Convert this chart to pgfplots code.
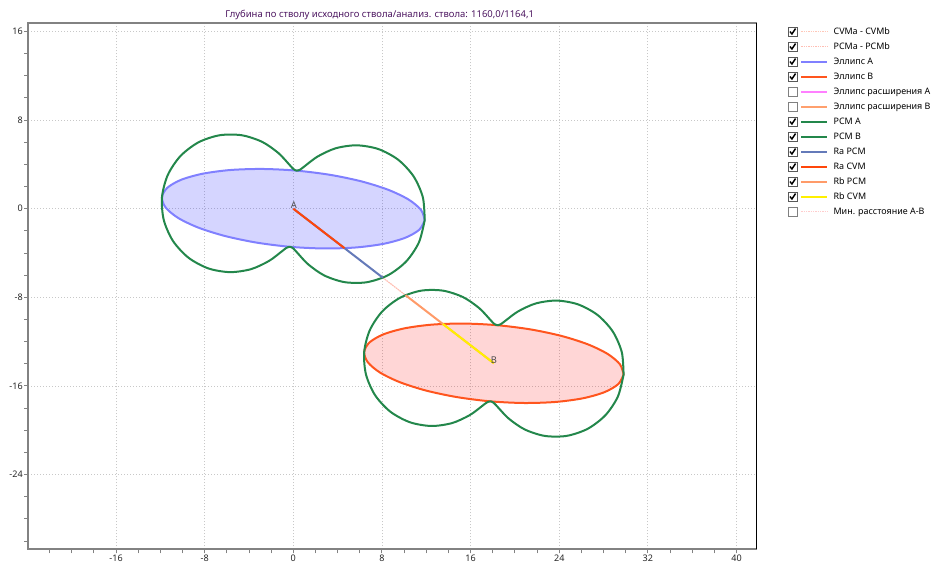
\documentclass[border=0pt]{standalone}
\usepackage{fontspec}
\setmainfont{Noto Sans}
\usepackage{pgfplots}
\pgfplotsset{compat=1.18}
\definecolor{pcmgreen}{RGB}{35,135,75}
\definecolor{ellA}{RGB}{128,128,255}
\definecolor{ellB}{RGB}{255,85,30}
\definecolor{raPCM}{RGB}{100,122,185}
\definecolor{raCVM}{RGB}{255,70,10}
\definecolor{rbPCM}{RGB}{255,155,105}
\definecolor{rbCVM}{RGB}{255,240,0}
\definecolor{cvmline}{RGB}{255,200,185}
\definecolor{pcmline}{RGB}{255,190,180}
\definecolor{minline}{RGB}{255,205,205}
\definecolor{expA}{RGB}{255,128,255}
\definecolor{expB}{RGB}{255,160,110}
\definecolor{titlecol}{RGB}{75,20,95}
\definecolor{gridcol}{RGB}{200,200,200}
\definecolor{spine}{RGB}{130,130,130}
\pgfplotsset{
 chk/.style={legend image code/.code={
   \draw[black!65, line width=0.5pt, solid, fill=white, fill opacity=1] (0pt,-3.2pt) rectangle (6.4pt,3.2pt);
   \draw[black, line width=1.1pt, solid, fill=none] (1.2pt,0.1pt) -- (2.7pt,-1.7pt) -- (5.4pt,2.3pt);
   \draw[fill=none] (9.75pt,0pt) -- (29.25pt,0pt);}},
 unchk/.style={legend image code/.code={
   \draw[black!50, line width=0.5pt, solid, fill=white, fill opacity=1] (0pt,-3.2pt) rectangle (6.4pt,3.2pt);
   \draw[fill=none] (9.75pt,0pt) -- (29.25pt,0pt);}},
}
\begin{document}
\begin{tikzpicture}
\begin{axis}[
 at={(0,0)}, anchor=south west,
 scale only axis, width=546.3pt, height=394.95pt,
 xmin=-23.92, xmax=41.82, ymin=-30.74, ymax=16.79,
 axis line style={draw=none},
 xtick={-16,-8,...,40}, xticklabels={-16,-8,0,8,16,24,32,40},
 ytick={-24,-16,...,16}, yticklabels={-24,-16,-8,0,8,16},
 minor xtick={-22,-20,...,40}, minor ytick={-30,-28,...,16},
 xtick pos=bottom, ytick pos=left, tick align=outside,
 major tick length=3pt, minor tick length=3pt,
 tick style={spine, line width=0.75pt},
 grid=major, major grid style={gridcol, line width=0.6pt, dash pattern=on 0.75pt off 1.5pt},
 tick label style={font=\fontsize{6.8}{8}\selectfont, text=black!85},
 xticklabel style={inner sep=1pt},
 yticklabel style={inner sep=1pt},
 legend style={at={(1.0430,0.9918)}, anchor=north west, draw=none, fill=none,
   inner sep=0pt, outer sep=0pt, row sep=4.25pt, column sep=3.95pt,
   font=\fontsize{6.7}{8}\selectfont,
   nodes={inner xsep=0pt, inner ysep=0pt, text height=5.3pt, text depth=1.7pt}},
 legend cell align=left,
]
\addplot[cvmline, line width=0.75pt, dash pattern=on 1pt off 0.75pt, chk] coordinates {(4.618,-3.559) (13.492,-10.398)};
\addlegendentry{CVMa - CVMb}
\addplot[pcmline, line width=0.75pt, dash pattern=on 1pt off 0.75pt, chk] coordinates {(8.075,-6.224) (10.123,-7.802)};
\addlegendentry{PCMa - PCMb}
\addplot[ellA, line width=1.5pt, smooth, fill=blue, fill opacity=0.165, draw opacity=1, chk] coordinates {
(11.855,-1.037) (11.529,-0.113) (10.417,0.820) (8.596,1.697) (6.188,2.457) (3.358,3.052) (0.301,3.437) (-2.778,3.588) (-5.668,3.495) (-8.170,3.163) (-10.117,2.616) (-11.373,1.891) (-11.855,1.037) (-11.529,0.113) (-10.417,-0.820) (-8.596,-1.697) (-6.188,-2.457) (-3.358,-3.052) (-0.301,-3.437) (2.778,-3.588) (5.668,-3.495) (8.170,-3.163) (10.117,-2.616) (11.373,-1.891) (11.855,-1.037)};
\addlegendentry{Эллипс A}
\addplot[ellB, line width=1.5pt, smooth, fill=red, fill opacity=0.16, draw opacity=1, chk] coordinates {
(29.805,-14.974) (29.484,-14.050) (28.387,-13.119) (26.590,-12.244) (24.213,-11.486) (21.419,-10.895) (18.401,-10.513) (15.361,-10.365) (12.507,-10.462) (10.036,-10.796) (8.113,-11.345) (6.872,-12.072) (6.395,-12.926) (6.716,-13.850) (7.813,-14.781) (9.610,-15.656) (11.987,-16.414) (14.781,-17.005) (17.799,-17.387) (20.839,-17.535) (23.693,-17.438) (26.164,-17.104) (28.087,-16.555) (29.328,-15.828) (29.805,-14.974)};
\addlegendentry{Эллипс B}
\addlegendimage{expA, line width=1.5pt, unchk}
\addlegendentry{Эллипс расширения A}
\addlegendimage{expB, line width=1.5pt, unchk}
\addlegendentry{Эллипс расширения B}
\addplot[pcmgreen, line width=1.5pt, smooth, chk] coordinates {
(11.855,-1.037) (11.691,1.023) (10.861,2.910) (9.470,4.416) (7.686,5.382) (5.722,5.723) (3.819,5.454) (2.199,4.715) (1.029,3.842) (0.624,3.535) (0.301,3.437)
(0.000,3.589) (-0.347,3.962) (-1.347,5.025) (-2.813,6.034) (-4.642,6.629) (-6.634,6.634) (-8.560,5.994) (-10.191,4.752) (-11.335,3.037) (-11.855,1.037)
(-11.691,-1.023) (-10.861,-2.910) (-9.470,-4.416) (-7.686,-5.382) (-5.722,-5.723) (-3.819,-5.454) (-2.199,-4.715) (-1.029,-3.842) (-0.624,-3.535) (-0.301,-3.437)
(0.000,-3.589) (0.347,-3.962) (1.347,-5.025) (2.813,-6.034) (4.642,-6.629) (6.634,-6.634) (8.560,-5.994) (10.191,-4.752) (11.335,-3.037) (11.855,-1.037)};
\addlegendentry{PCM A}
\addplot[pcmgreen, line width=1.5pt, smooth, chk] coordinates {
(29.805,-14.974) (29.643,-12.941) (28.825,-11.075) (27.454,-9.588) (25.693,-8.633) (23.758,-8.291) (21.881,-8.551) (20.282,-9.270) (19.125,-10.122) (18.723,-10.419) (18.401,-10.513)
(18.099,-10.365) (17.755,-10.002) (16.764,-8.962) (15.315,-7.977) (13.510,-7.395) (11.545,-7.395) (9.646,-8.030) (8.037,-9.257) (6.907,-10.951) (6.395,-12.926)
(6.557,-14.959) (7.375,-16.825) (8.746,-18.312) (10.507,-19.267) (12.442,-19.609) (14.319,-19.349) (15.918,-18.630) (17.075,-17.778) (17.477,-17.481) (17.799,-17.387)
(18.101,-17.535) (18.445,-17.898) (19.436,-18.938) (20.885,-19.923) (22.690,-20.505) (24.655,-20.505) (26.554,-19.870) (28.163,-18.643) (29.293,-16.949) (29.805,-14.974)};
\addlegendentry{PCM B}
\addplot[raPCM, line width=1.5pt, chk] coordinates {(0,0) (8.075,-6.224)};
\addlegendentry{Ra PCM}
\addplot[raCVM, line width=1.5pt, chk] coordinates {(0,0) (4.618,-3.559)};
\addlegendentry{Ra CVM}
\addplot[rbPCM, line width=1.5pt, chk] coordinates {(18.1,-13.95) (10.123,-7.802)};
\addlegendentry{Rb PCM}
\addplot[rbCVM, line width=1.5pt, chk] coordinates {(18.1,-13.95) (13.492,-10.398)};
\addlegendentry{Rb CVM}
\addlegendimage{minline, line width=0.75pt, dash pattern=on 1pt off 0.75pt, unchk}
\addlegendentry{Мин. расстояние A-B}
\node[anchor=south, inner sep=0pt, font=\fontsize{7}{8}\selectfont, text=black!70] at (axis cs:0.05,0) {A};
\node[anchor=south, inner sep=0pt, font=\fontsize{7}{8}\selectfont, text=black!70] at (axis cs:18.1,-13.95) {B};
\end{axis}
\draw[spine, line width=1.5pt] (current axis.south east) -- (current axis.south west) -- (current axis.north west) -- (current axis.north east);
\draw[black, line width=0.75pt] (current axis.south east) -- (current axis.north east);
\node[anchor=base, text=titlecol, font=\fontsize{7.1}{8}\selectfont, inner sep=0pt] at (263.5pt,399pt) {Глубина по стволу исходного ствола/анализ. ствола: 1160,0/1164,1};
\pgfresetboundingbox
\path (-21.225pt,-14.775pt) rectangle (677.775pt,411.975pt);
\end{tikzpicture}
\end{document}
